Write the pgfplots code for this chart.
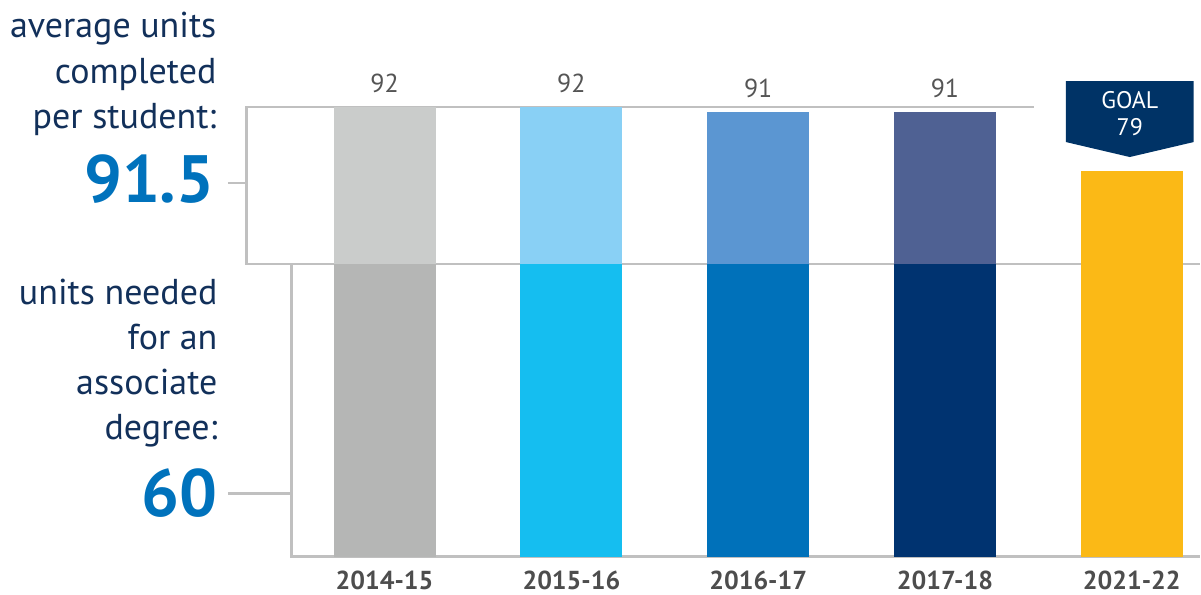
\documentclass[border=0pt]{standalone}
\usepackage{pgfplots}
\pgfplotsset{compat=1.18}
\usepackage{fontspec}
\setmainfont{PT Sans}
\definecolor{aUp}{HTML}{CACCCB}
\definecolor{aLo}{HTML}{B5B6B5}
\definecolor{bUp}{HTML}{89D0F5}
\definecolor{bLo}{HTML}{15BEF0}
\definecolor{cUp}{HTML}{5B96D2}
\definecolor{cLo}{HTML}{0071BA}
\definecolor{dUp}{HTML}{4F6193}
\definecolor{dLo}{HTML}{003370}
\definecolor{goal}{HTML}{FBB916}
\definecolor{navy}{HTML}{003366}
\definecolor{navytext}{HTML}{12305A}
\definecolor{bignum}{HTML}{0072BC}
\definecolor{linegray}{HTML}{C0C0C0}
\definecolor{valgray}{HTML}{555555}
\definecolor{tickgray}{HTML}{4D4D4D}
\newcommand{\PX}[1]{(#1-385)/187}
\newcommand{\PY}[1]{(557-#1)/4.89}
\begin{document}
\begin{tikzpicture}
\begin{axis}[
  scale only axis, width=600.5pt, height=297.5pt,
  xmin=-2.0588, xmax=4.3636, ymin=-7.771, ymax=113.906,
  axis line style={draw=none}, ytick=\empty,
  xtick={0,1,2,3,4},
  xticklabels={2014-15,2015-16,2016-17,2017-18,2021-22},
  major tick length=0pt,
  /pgf/number format/assume math mode=true,
  xticklabel style={anchor=base, yshift=2.5pt, inner sep=0pt, font=\bfseries\fontsize{13}{15}\selectfont, text=tickgray},
  clip=false,
  every node near coord/.append style={anchor=base, yshift=7.5pt, inner sep=0pt, font=\fontsize{13}{15}\selectfont, text=valgray},
]
% decorative frame lines
\draw[linegray, line width=1.3pt] (axis cs:{\PX{1035}},{\PY{107}}) -- (axis cs:{\PX{247}},{\PY{107}}) -- (axis cs:{\PX{247}},{\PY{264}}) -- (axis cs:{\PX{1201}},{\PY{264}});
\draw[linegray, line width=1.3pt] (axis cs:{\PX{228}},{\PY{183}}) -- (axis cs:{\PX{247}},{\PY{183}});
\draw[linegray, line width=1.3pt] (axis cs:{\PX{228}},{\PY{494}}) -- (axis cs:{\PX{292}},{\PY{494}});
\draw[linegray, line width=1.3pt] (axis cs:{\PX{292}},{\PY{264}}) -- (axis cs:{\PX{292}},{\PY{557}}) -- (axis cs:{\PX{1201}},{\PY{557}});
% bars: upper (completed) and lower (60 needed)
\addplot[ybar, bar width=51pt, bar shift=0pt, fill=aUp, draw=none, nodes near coords] coordinates {(0,92)};
\addplot[ybar, bar width=51pt, bar shift=0pt, fill=aLo, draw=none] coordinates {(0,60)};
\addplot[ybar, bar width=51pt, bar shift=0pt, fill=bUp, draw=none, nodes near coords] coordinates {(1,92)};
\addplot[ybar, bar width=51pt, bar shift=0pt, fill=bLo, draw=none] coordinates {(1,60)};
\addplot[ybar, bar width=51pt, bar shift=0pt, fill=cUp, draw=none, nodes near coords] coordinates {(2,91)};
\addplot[ybar, bar width=51pt, bar shift=0pt, fill=cLo, draw=none] coordinates {(2,60)};
\addplot[ybar, bar width=51pt, bar shift=0pt, fill=dUp, draw=none, nodes near coords] coordinates {(3,91)};
\addplot[ybar, bar width=51pt, bar shift=0pt, fill=dLo, draw=none] coordinates {(3,60)};
\addplot[ybar, bar width=51pt, bar shift=0pt, fill=goal, draw=none] coordinates {(4,79)};
% goal marker
\fill[navy] (axis cs:{\PX{1067}},{\PY{81}}) -- (axis cs:{\PX{1195}},{\PY{81}}) -- (axis cs:{\PX{1195}},{\PY{142}}) -- (axis cs:{\PX{1131}},{\PY{157}}) -- (axis cs:{\PX{1067}},{\PY{142}}) -- cycle;
\node[anchor=base, inner sep=0pt, text=white, font=\fontsize{12}{14}\selectfont] at (axis cs:{\PX{1131}},{\PY{108}}) {GOAL};
\node[anchor=base, inner sep=0pt, text=white, font=\fontsize{12}{14}\selectfont] at (axis cs:{\PX{1131}},{\PY{135}}) {79};
% left annotations
\begin{scope}[every node/.style={anchor=base east, inner sep=0pt, text=navytext, font=\fontsize{18}{22}\selectfont}]
\node at (axis cs:{\PX{217}},{\PY{37}}) {average units};
\node at (axis cs:{\PX{217}},{\PY{83}}) {completed};
\node at (axis cs:{\PX{217}},{\PY{128}}) {per student:};
\node at (axis cs:{\PX{218}},{\PY{305}}) {units needed};
\node at (axis cs:{\PX{218}},{\PY{350}}) {for an};
\node at (axis cs:{\PX{218}},{\PY{395}}) {associate};
\node at (axis cs:{\PX{218}},{\PY{440}}) {degree:};
\end{scope}
\node[anchor=base east, inner sep=0pt, text=bignum, font=\bfseries\fontsize{33.5}{40}\selectfont] at (axis cs:{\PX{215}},{\PY{203}}) {91.5};
\node[anchor=base east, inner sep=0pt, text=bignum, font=\bfseries\fontsize{33.5}{40}\selectfont] at (axis cs:{\PX{218}},{\PY{517}}) {60};
\end{axis}
\end{tikzpicture}
\end{document}
